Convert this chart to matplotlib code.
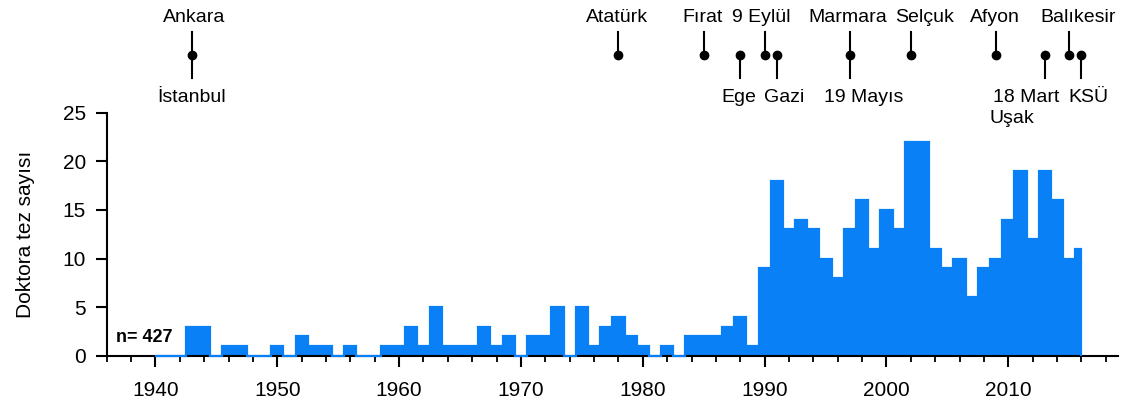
import matplotlib
matplotlib.use('Agg')
import matplotlib.pyplot as plt
import matplotlib.transforms as mtrans
import numpy as np

plt.rcParams.update({
    'font.family': ['Liberation Sans', 'DejaVu Sans'],
    'font.size': 14,
})

# ── Data ──────────────────────────────────────────────────────────────
years = np.arange(1940, 2017)
theses = [0, 0, 0, 3, 3, 0, 1, 1, 0, 0,      # 1940-1949
          1, 0, 2, 1, 1, 0, 1, 0, 0, 1,      # 1950-1959
          1, 3, 1, 5, 1, 1, 1, 3, 1, 2,      # 1960-1969
          0, 2, 2, 5, 0, 5, 1, 3, 4, 2,      # 1970-1979
          1, 0, 1, 0, 2, 2, 2, 3, 4, 1,      # 1980-1989
          9, 18, 13, 14, 13, 10, 8, 13, 16, 11,   # 1990-1999
          15, 13, 22, 22, 11, 9, 10, 6, 9, 10,    # 2000-2009
          14, 19, 12, 19, 16, 10, 11]             # 2010-2016

# university timeline: dot year, label above / below and where the label sits
uni_years = [1943, 1978, 1985, 1988, 1990, 1991, 1997, 2002, 2009, 2013, 2015, 2016]
uni_above = ["Ankara", "Atatürk", "Fırat", None, "9 Eylül", None, "Marmara",
             "Selçuk", "Afyon", None, "Balıkesir", None]
uni_below = ["İstanbul", None, None, "Ege", None, "Gazi", "19 Mayıs",
             None, None, "18 Mart", None, "KSÜ"]
above_x = [1943.2, 1977.9, 1984.9, None, 1989.7, None, 1996.8,
           2003.1, 2008.9, None, 2015.7, None]
below_x = [1943.0, None, None, 1987.9, None, 1991.6, 1998.1,
           None, None, 2011.5, None, 2016.6]
# second row under the dots
row2_labels = ["Uşak"]
row2_x = [2010.3]

BLUE = "#0a80f7"

fig = plt.figure(figsize=(11.22, 4.07), dpi=100)
ax = fig.add_axes([0.0951, 0.126, 0.9013, 0.597])

edges = np.concatenate(([years[0]], years[1:] - 0.5, [years[-1]]))
ax.stairs(theses, edges, fill=True, color=BLUE, zorder=2)
ax.stairs(theses, edges, color=BLUE, linewidth=1.6, zorder=3, clip_on=False)

ax.set_xlim(1936, 2019)
ax.set_ylim(0, 25)
ax.set_xticks(np.arange(1940, 2011, 10))
ax.set_xticks(np.arange(1936, 2019, 2), minor=True)
ax.set_yticks(np.arange(0, 26, 5))
ax.tick_params(axis='x', which='major', length=8, width=1.5, pad=10, labelsize=15)
ax.tick_params(axis='x', which='minor', length=4, width=1.3)
ax.tick_params(axis='y', length=8, width=1.5, pad=7, labelsize=15)
ax.spines['top'].set_visible(False)
ax.spines['right'].set_visible(False)
ax.spines['left'].set_linewidth(1.5)
ax.spines['bottom'].set_linewidth(1.5)
ax.set_ylabel("Doktora tez sayısı", fontsize=15, labelpad=20)

ax.text(1936.8, 1.9, "n= 427", fontsize=13, fontweight='bold', ha='left', va='center')

# ── Timeline above the axes ───────────────────────────────────────────
tr = mtrans.blended_transform_factory(ax.transData, fig.transFigure)
H = 407.0


def fy(px):
    return 1 - px / H


dot_y = fy(55)
for yr, lab_a, lab_b, xa, xb in zip(uni_years, uni_above, uni_below, above_x, below_x):
    ax.plot([yr], [dot_y], 'o', color='black', markersize=6, transform=tr, clip_on=False)
    if lab_a:
        ax.plot([yr, yr], [fy(32), dot_y], color='black', lw=1.5, transform=tr, clip_on=False)
        ax.text(xa, fy(17), lab_a, ha='center', va='center', fontsize=14,
                transform=tr, clip_on=False)
    if lab_b:
        ax.plot([yr, yr], [dot_y, fy(78)], color='black', lw=1.5, transform=tr, clip_on=False)
        ax.text(xb, fy(97), lab_b, ha='center', va='center', fontsize=14,
                transform=tr, clip_on=False)

for lab, x in zip(row2_labels, row2_x):
    ax.text(x, fy(119), lab, ha='center', va='center', fontsize=14,
            transform=tr, clip_on=False)

fig.savefig("out.png", dpi=100)
